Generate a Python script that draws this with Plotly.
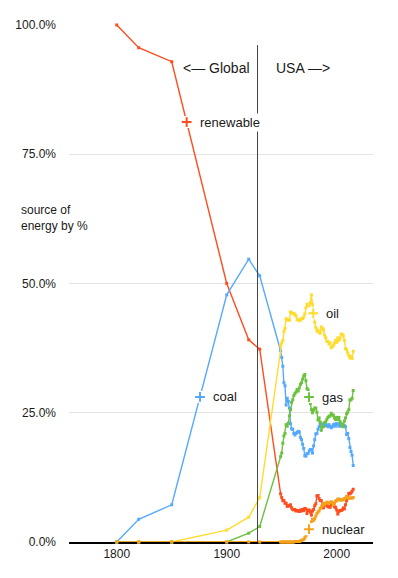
import numpy as np
import plotly.graph_objects as go

# ---------------- data ----------------
years_global = [1800, 1820, 1850, 1900, 1920, 1930]
renew_global = [100.0, 95.6, 92.9, 50.0, 39.1, 37.3]
coal_global = [0.0, 4.4, 7.2, 47.8, 54.7, 51.5]
oil_global = [0.0, 0.0, 0.0, 2.3, 4.8, 8.6]
gas_global = [0.0, 0.0, 0.0, 0.0, 1.7, 3.0]
nuclear_global = [0.0, 0.0, 0.0, 0.0, 0.0, 0.0]

years_usa = list(range(1949, 2016))
renew_usa = [9.3, 8.6, 8.0, 8.0, 7.5, 7.5, 6.9, 7.0, 7.0, 7.2,
             6.6, 6.3, 6.2, 6.3, 6.0, 6.1, 6.0, 5.9, 6.2, 6.0,
             6.3, 6.1, 6.5, 6.4, 5.5, 6.1, 6.2, 5.8, 5.2, 6.0,
             6.3, 7.0, 7.4, 8.9, 9.0, 8.4, 8.0, 8.0, 7.1, 6.6,
             7.4, 7.1, 7.2, 6.8, 7.0, 6.7, 7.2, 7.5, 7.4, 6.8,
             6.7, 6.2, 5.4, 5.9, 6.1, 6.1, 6.2, 6.6, 6.4, 7.2,
             8.0, 8.5, 9.4, 9.3, 9.5, 9.8, 10.2]
coal_usa = [37.0, 35.7, 34.0, 30.8, 30.2, 26.5, 27.8, 27.2, 25.9, 22.9,
            21.9, 21.8, 21.0, 20.7, 21.0, 21.2, 21.4, 21.3, 20.2, 19.8,
            18.9, 18.1, 16.7, 16.6, 17.1, 17.1, 17.6, 17.9, 17.9, 17.2,
            18.6, 19.8, 20.9, 21.0, 21.8, 22.3, 22.9, 22.5, 22.8, 22.8,
            22.5, 22.7, 22.5, 22.3, 22.7, 22.4, 22.1, 22.3, 22.7, 22.8,
            22.4, 22.9, 22.8, 22.4, 22.8, 22.4, 22.8, 22.5, 22.5, 22.3,
            20.8, 21.0, 20.0, 18.3, 17.5, 16.8, 14.8]
oil_usa = [38.0, 38.5, 39.0, 40.7, 41.3, 43.2, 42.9, 43.0, 42.9, 44.5,
           44.4, 44.2, 44.2, 44.0, 43.7, 43.0, 43.0, 42.8, 42.9, 43.2,
           43.2, 43.5, 44.1, 45.3, 46.0, 45.3, 45.5, 46.3, 47.8, 46.0,
           43.5, 42.5, 41.5, 40.8, 41.0, 40.5, 40.4, 41.6, 41.3, 41.0,
           40.0, 39.5, 38.8, 38.8, 38.3, 38.5, 37.6, 37.8, 38.0, 38.5,
           39.0, 38.6, 39.5, 39.0, 39.4, 40.2, 40.2, 39.9, 39.0, 37.4,
           37.2, 36.6, 36.1, 35.6, 35.9, 35.5, 36.9]
gas_usa = [16.5, 17.2, 19.1, 20.5, 21.0, 22.7, 22.4, 23.0, 24.4, 25.6,
           27.0, 27.5, 28.3, 28.7, 29.0, 29.5, 29.2, 29.8, 30.5, 30.8,
           31.5, 32.1, 32.4, 31.2, 29.7, 29.4, 27.7, 26.8, 25.6, 25.0,
           25.5, 25.9, 25.9, 25.1, 23.6, 24.0, 23.2, 21.6, 22.3, 22.3,
           23.1, 23.2, 23.7, 24.1, 24.3, 24.4, 24.9, 24.6, 24.5, 24.0,
           23.7, 24.1, 23.7, 24.1, 23.3, 22.9, 22.5, 22.3, 23.4, 24.0,
           24.8, 25.1, 25.6, 27.5, 27.5, 27.8, 29.3]
nuclear_usa = [0.0, 0.0, 0.0, 0.0, 0.0, 0.0, 0.0, 0.0, 0.0, 0.0,
               0.0, 0.0, 0.0, 0.1, 0.1, 0.1, 0.1, 0.1, 0.2, 0.3,
               0.4, 0.5, 0.8, 1.2, 1.6, 2.0, 2.6, 3.2, 3.9, 4.4,
               4.2, 4.5, 5.0, 5.5, 5.8, 6.0, 6.5, 6.8, 7.0, 7.4,
               7.3, 7.5, 7.7, 7.6, 7.4, 7.6, 7.8, 7.6, 7.2, 7.5,
               7.9, 8.0, 8.3, 8.3, 8.1, 8.2, 8.1, 8.2, 8.4, 8.5,
               8.8, 8.6, 8.5, 8.5, 8.5, 8.5, 8.6]

series_names = ["renewable", "coal", "oil", "gas", "nuclear"]
series_colors = ["#ff4d1f", "#55a9ff", "#ffdc2e", "#6cc23e", "#f7a11b"]
label_years = [1863.6, 1875.7, 1978.7, 1974.8, 1974.8]

divider_year = 1928
y_ticks = [0, 25, 50, 75, 100]
y_tick_labels = ["0.0%", "25.0%", "50.0%", "75.0%", "100.0%"]
x_ticks = [1800, 1900, 2000]

# ---------------- figure ----------------
FONT = "Liberation Sans, Arial, Helvetica, sans-serif"
years_all = years_global + years_usa
values = {
    "renewable": renew_global + renew_usa,
    "coal": coal_global + coal_usa,
    "oil": oil_global + oil_usa,
    "gas": gas_global + gas_usa,
    "nuclear": nuclear_global + nuclear_usa,
}

fig = go.Figure()
for name, col in zip(series_names, series_colors):
    fig.add_trace(go.Scatter(
        x=years_all, y=values[name], mode="lines+markers", name=name,
        line=dict(color=col, width=1.4),
        marker=dict(color=col, size=3, symbol="square"),
        cliponaxis=False, showlegend=False, hoverinfo="skip"))

annotations = []
for name, col, ly in zip(series_names, series_colors, label_years):
    yv = float(np.interp(ly, years_all, values[name]))
    fig.add_trace(go.Scatter(
        x=[ly], y=[yv], mode="markers",
        marker=dict(color="white", size=12, symbol="square"),
        cliponaxis=False, showlegend=False, hoverinfo="skip"))
    fig.add_trace(go.Scatter(
        x=[ly], y=[yv], mode="markers",
        marker=dict(symbol="cross-thin", size=7, line=dict(color=col, width=2)),
        cliponaxis=False, showlegend=False, hoverinfo="skip"))
    annotations.append(dict(
        x=ly, y=yv, xref="x", yref="y", text=name, showarrow=False,
        xanchor="left", yanchor="middle", xshift=11,
        font=dict(family=FONT, size=13, color="#1a1a1a"),
        bgcolor="white" if name == "renewable" else "rgba(0,0,0,0)",
        borderpad=1))

annotations += [
    dict(x=divider_year, y=91.7, xref="x", yref="y", text="<— Global",
         showarrow=False, xanchor="right", yanchor="middle", xshift=-6,
         font=dict(family=FONT, size=14, color="#1a1a1a")),
    dict(x=divider_year, y=91.7, xref="x", yref="y", text="USA —>",
         showarrow=False, xanchor="left", yanchor="middle", xshift=16,
         font=dict(family=FONT, size=14, color="#1a1a1a")),
    dict(x=-0.164, y=0.627, xref="paper", yref="paper",
         text="source of<br>energy by %", showarrow=False, align="left",
         xanchor="left", yanchor="middle",
         font=dict(family=FONT, size=12, color="#1a1a1a")),
]

fig.add_shape(type="line", x0=divider_year, x1=divider_year, y0=0, y1=96.1,
              xref="x", yref="y", line=dict(color="#444444", width=1),
              layer="above")

fig.update_layout(
    width=398, height=578,
    margin=dict(l=69, r=25, t=25, b=36),
    paper_bgcolor="white", plot_bgcolor="white",
    font=dict(family=FONT, size=12, color="#1a1a1a"),
    annotations=annotations,
    xaxis=dict(range=[1756.6, 2033], tickvals=x_ticks, showgrid=False,
               zeroline=False, showline=True, linecolor="black", linewidth=1.5,
               ticks="", layer="below traces",
               tickfont=dict(family=FONT, size=12, color="#1a1a1a")),
    yaxis=dict(range=[0, 100], tickvals=y_ticks, ticktext=y_tick_labels,
               showgrid=True, gridcolor="#e4e4e4",
               gridwidth=1, zeroline=False, showline=False, ticks="",
               ticklabelstandoff=12,
               tickfont=dict(family=FONT, size=12, color="#1a1a1a")),
)

fig.write_html(
    "out.html",
    config={"displayModeBar": False},
    post_script="document.body.style.margin='0';document.body.style.padding='0';",
)
